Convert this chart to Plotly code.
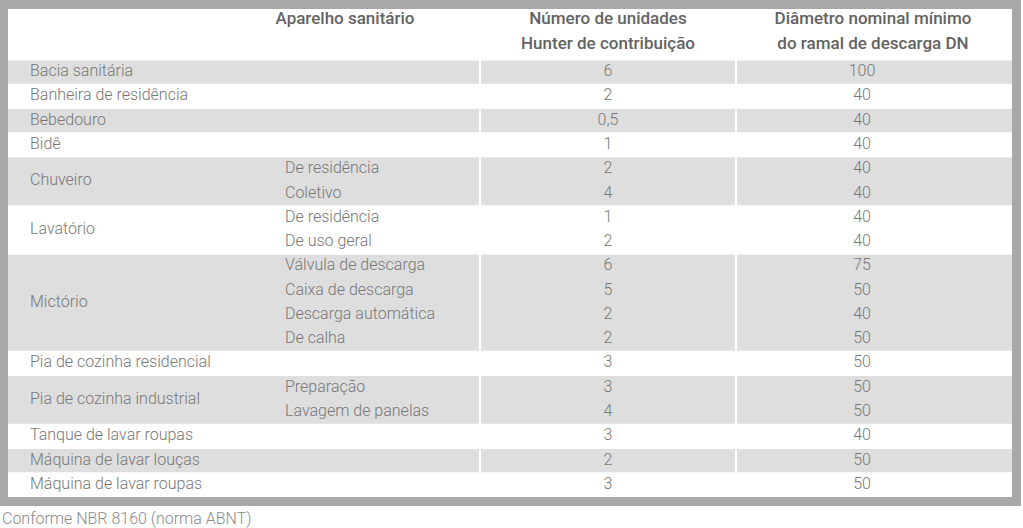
import plotly.graph_objects as go

# Table content (NBR 8160)
aparelhos = [
    'Bacia sanitária', 'Banheira de residência', 'Bebedouro', 'Bidê',
    'Chuveiro', 'Lavatório', 'Mictório', 'Pia de cozinha residencial',
    'Pia de cozinha industrial', 'Tanque de lavar roupas',
    'Máquina de lavar louças', 'Máquina de lavar roupas',
]
subtipos = [
    [''], [''], [''], [''],
    ['De residência', 'Coletivo'],
    ['De residência', 'De uso geral'],
    ['Válvula de descarga', 'Caixa de descarga', 'Descarga automática', 'De calha'],
    [''],
    ['Preparação', 'Lavagem de panelas'],
    [''], [''], [''],
]
unidades_hunter = [
    ['6'], ['2'], ['0,5'], ['1'],
    ['2', '4'],
    ['1', '2'],
    ['6', '5', '2', '2'],
    ['3'],
    ['3', '4'],
    ['3'], ['2'], ['3'],
]
diametro_dn = [
    ['100'], ['40'], ['40'], ['40'],
    ['40', '40'],
    ['40', '40'],
    ['75', '50', '40', '50'],
    ['50'],
    ['50', '50'],
    ['40'], ['50'], ['50'],
]
header_l1 = ['Aparelho sanitário', 'Número de unidades', 'Diâmetro nominal mínimo']
header_l2 = ['', 'Hunter de contribuição', 'do ramal de descarga DN']
nota = 'Conforme NBR 8160 (norma ABNT)'

# layout constants (pixels)
W, H = 1023, 528
FRAME = '#a8a8a8'
ROWGRAY = '#dedede'
TXT = '#777777'
HEAD = '#636363'
FONT = 'Roboto'
top, bottom = 60, 497
left, right = 8, 1012
col_sep = [(8, 479), (481, 735), (737, 1012)]
x_name, x_sub, x_hunter, x_dn = 30, 285, 608, 862
x_head = [345, 608, 873]

nlines = sum(len(s) for s in subtipos)
lh = (bottom - top) / nlines

fig = go.Figure()

shapes = [
    dict(type='rect', x0=0, x1=1021, y0=0, y1=506, fillcolor=FRAME, line_width=0, layer='below'),
    dict(type='rect', x0=left, x1=right, y0=9, y1=bottom, fillcolor='white', line_width=0, layer='below'),
]

names_x, names_y, names_t = [], [], []
subs_x, subs_y, subs_t = [], [], []
num_x, num_y, num_t = [], [], []

y = top
for i, nome in enumerate(aparelhos):
    n = len(subtipos[i])
    y0, y1 = y, y + n * lh
    if i % 2 == 0:
        for a, b in col_sep:
            shapes.append(dict(type='rect', x0=a, x1=b, y0=y0 + 0.5, y1=y1 - 0.5,
                               fillcolor=ROWGRAY, line_width=0, layer='below'))
    names_x.append(x_name)
    names_y.append((y0 + y1) / 2)
    names_t.append(nome)
    for k in range(n):
        yc = y0 + (k + 0.5) * lh
        if subtipos[i][k]:
            subs_x.append(x_sub); subs_y.append(yc); subs_t.append(subtipos[i][k])
        num_x += [x_hunter, x_dn]
        num_y += [yc, yc]
        num_t += [unidades_hunter[i][k], diametro_dn[i][k]]
    y = y1

tf = dict(family=FONT, size=16, color=TXT, weight=300)
fig.add_trace(go.Scatter(x=names_x, y=names_y, text=names_t, mode='text',
                         textposition='middle right', textfont=tf, hoverinfo='skip'))
fig.add_trace(go.Scatter(x=subs_x, y=subs_y, text=subs_t, mode='text',
                         textposition='middle right', textfont=tf, hoverinfo='skip'))
fig.add_trace(go.Scatter(x=num_x, y=num_y, text=num_t, mode='text',
                         textposition='middle center', textfont=tf, hoverinfo='skip'))

hf = dict(family=FONT, size=17, color=HEAD, weight=500)
fig.add_trace(go.Scatter(x=x_head, y=[20] * 3, text=header_l1, mode='text',
                         textposition='middle center', textfont=hf, hoverinfo='skip'))
fig.add_trace(go.Scatter(x=x_head, y=[45] * 3, text=header_l2, mode='text',
                         textposition='middle center', textfont=hf, hoverinfo='skip'))

fig.add_annotation(x=0, y=518, xref='x', yref='y', text=nota, showarrow=False,
                   xanchor='left', yanchor='middle',
                   font=dict(family=FONT, size=16, color='#8a8a8a', weight=300))

fig.update_layout(
    width=W, height=H,
    margin=dict(l=0, r=0, t=0, b=0),
    paper_bgcolor='white', plot_bgcolor='white',
    showlegend=False,
    shapes=shapes,
)
fig.update_xaxes(range=[0, W], visible=False, fixedrange=True)
fig.update_yaxes(range=[H, 0], visible=False, fixedrange=True)

# page body has a default 8px margin; remove it so the figure sits at 0,0
fig.write_html('out.html', config={'displayModeBar': False},
               post_script="document.body.style.margin='0';")
